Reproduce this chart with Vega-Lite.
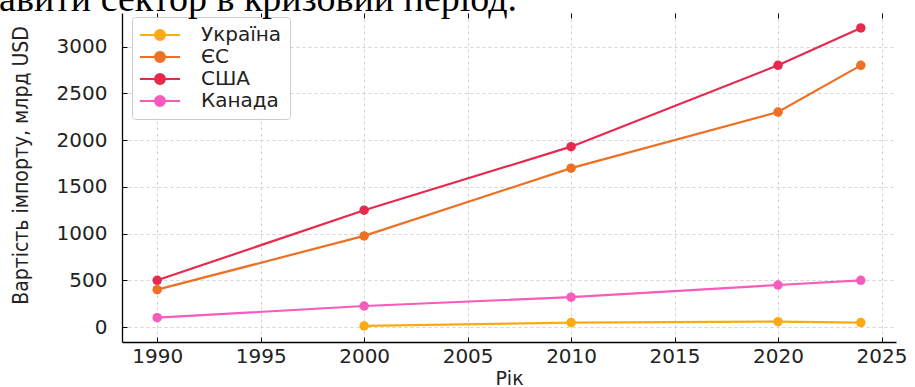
{
  "$schema": "https://vega.github.io/schema/vega-lite/v6.json",
  "width": 774,
  "height": 329,
  "autosize": "none",
  "padding": {"left": 122, "top": 13, "right": 19, "bottom": 45},
  "background": "white",
  "title": {
    "text": "пожвавити сектор в кризовий період.",
    "anchor": "start",
    "frame": "group",
    "orient": "top",
    "offset": 1,
    "baseline": "alphabetic",
    "dx": -205,
    "dy": 37,
    "font": "Liberation Serif",
    "fontSize": 38,
    "fontWeight": "normal",
    "color": "#000000"
  },
  "data": {
    "values": [
      {"country": "Україна", "year": 2000, "value": 12},
      {"country": "Україна", "year": 2010, "value": 48},
      {"country": "Україна", "year": 2020, "value": 58},
      {"country": "Україна", "year": 2024, "value": 48},
      {"country": "ЄС", "year": 1990, "value": 400},
      {"country": "ЄС", "year": 2000, "value": 975},
      {"country": "ЄС", "year": 2010, "value": 1700},
      {"country": "ЄС", "year": 2020, "value": 2300},
      {"country": "ЄС", "year": 2024, "value": 2800},
      {"country": "США", "year": 1990, "value": 500},
      {"country": "США", "year": 2000, "value": 1250},
      {"country": "США", "year": 2010, "value": 1930},
      {"country": "США", "year": 2020, "value": 2800},
      {"country": "США", "year": 2024, "value": 3200},
      {"country": "Канада", "year": 1990, "value": 100},
      {"country": "Канада", "year": 2000, "value": 225},
      {"country": "Канада", "year": 2010, "value": 320},
      {"country": "Канада", "year": 2020, "value": 450},
      {"country": "Канада", "year": 2024, "value": 500}
    ]
  },
  "config": {
    "view": {"stroke": null},
    "axis": {
      "domainColor": "#000000",
      "domainWidth": 1.3,
      "tickColor": "#000000",
      "tickWidth": 1,
      "tickSize": -5,
      "labelFont": "DejaVu Sans",
      "labelFontSize": 20,
      "labelColor": "#222222",
      "gridColor": "#c8c8c8",
      "gridDash": [3, 3],
      "gridWidth": 0.8,
      "titleFont": "DejaVu Sans",
      "titleFontWeight": "normal",
      "titleColor": "#222222"
    },
    "legend": {
      "orient": "none",
      "legendX": 10,
      "legendY": 4,
      "padding": 8,
      "rowPadding": 2,
      "strokeColor": "#cccccc",
      "fillColor": "rgba(255,255,255,0.85)",
      "cornerRadius": 3,
      "labelFont": "DejaVu Sans",
      "labelFontSize": 20,
      "labelColor": "#222222",
      "symbolStrokeWidth": 2,
      "symbolOffset": 10,
      "labelOffset": 31
    }
  },
  "resolve": {"axis": {"x": "independent"}},
  "layer": [
    {
      "mark": {"type": "line", "strokeWidth": 2.2},
      "encoding": {
        "x": {
          "field": "year",
          "type": "quantitative",
          "scale": {"domain": [1988.3, 2025.7], "nice": false, "zero": false},
          "axis": {
            "values": [1990, 1995, 2000, 2005, 2010, 2015, 2020, 2025],
            "format": "d",
            "title": "Рік",
            "titleFontSize": 19,
            "titlePadding": 3,
            "labelPadding": 9
          }
        },
        "y": {
          "field": "value",
          "type": "quantitative",
          "scale": {"domain": [-160, 3360], "nice": false, "zero": false},
          "axis": {
            "values": [0, 500, 1000, 1500, 2000, 2500, 3000],
            "format": "d",
            "title": "Вартість імпорту, млрд USD",
            "titleFont": "Liberation Sans Narrow, DejaVu Sans Condensed, Roboto Condensed, Roboto",
            "titleFontSize": 21,
            "titlePadding": 25,
            "titleY": 152,
            "labelPadding": 20
          }
        },
        "color": {
          "field": "country",
          "type": "nominal",
          "scale": {
            "domain": ["Україна", "ЄС", "США", "Канада"],
            "range": ["#FAAB14", "#EE7024", "#E8294E", "#F55CBB"]
          },
          "legend": {
            "title": null,
            "symbolType": "M-2.5,0H2.5M-0.625,0a0.625,0.625 0 1,0 1.25,0a0.625,0.625 0 1,0 -1.25,0",
            "symbolSize": 256,
            "encode": {
              "symbols": {
                "update": {
                  "fill": {"scale": "color", "field": "value"},
                  "stroke": {"scale": "color", "field": "value"},
                  "strokeWidth": {"value": 2},
                  "opacity": {"value": 1}
                }
              }
            }
          }
        }
      }
    },
    {
      "mark": {"type": "circle", "size": 90, "opacity": 1},
      "encoding": {
        "x": {
          "field": "year",
          "type": "quantitative",
          "axis": {
            "orient": "top",
            "values": [1990, 1995, 2000, 2005, 2010, 2015, 2020, 2025],
            "labels": false,
            "domain": false,
            "grid": false,
            "title": null
          }
        },
        "y": {"field": "value", "type": "quantitative"},
        "color": {"field": "country", "type": "nominal"}
      }
    }
  ]
}
